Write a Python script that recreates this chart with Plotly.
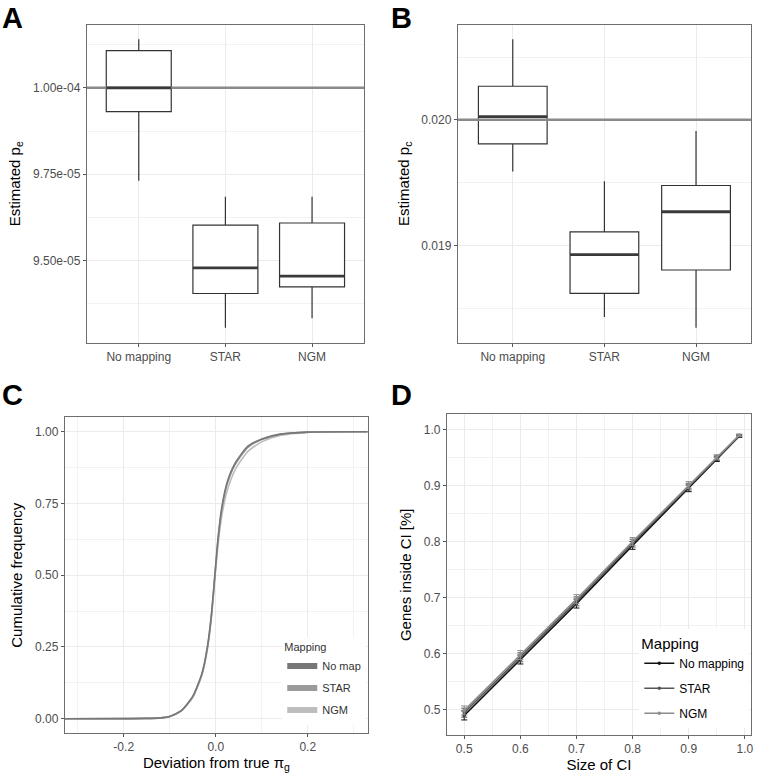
import plotly.graph_objects as go

# ---------------- data ----------------
methods = ["No mapping", "STAR", "NGM"]

# Panel A: estimated p_e (box stats)
pe_low = [9.731e-05, 9.306e-05, 9.333e-05]
pe_q1 = [9.931e-05, 9.405e-05, 9.424e-05]
pe_med = [1.0000e-04, 9.479e-05, 9.455e-05]
pe_q3 = [1.0108e-04, 9.603e-05, 9.609e-05]
pe_high = [1.0141e-04, 9.685e-05, 9.685e-05]
pe_true = 1.0e-04
pe_ticks = [9.50e-05, 9.75e-05, 1.00e-04]
pe_ticktext = ["9.50e-05", "9.75e-05", "1.00e-04"]
pe_minor = [9.375e-05, 9.625e-05, 9.875e-05, 1.0125e-04]

# Panel B: estimated p_c (box stats)
pc_low = [0.019589, 0.018430, 0.018343]
pc_q1 = [0.019809, 0.018618, 0.018804]
pc_med = [0.020026, 0.018926, 0.019268]
pc_q3 = [0.020268, 0.019107, 0.019477]
pc_high = [0.020642, 0.019511, 0.019912]
pc_true = 0.020
pc_ticks = [0.019, 0.020]
pc_ticktext = ["0.019", "0.020"]
pc_minor = [0.0185, 0.0195, 0.0205]

# Panel C: cumulative frequency of deviation from true pi_g
dev_x = [-0.33, -0.15, -0.12, -0.10, -0.075, -0.05, -0.03, -0.018, -0.009, -0.002,
         0.005, 0.013, 0.025, 0.043, 0.07, 0.10, 0.14, 0.20, 0.33]
cdf_nomap = [0.0, 0.001, 0.003, 0.008, 0.028, 0.078, 0.158, 0.252, 0.37, 0.50,
             0.63, 0.735, 0.825, 0.893, 0.950, 0.975, 0.992, 0.999, 1.0]
cdf_star = [0.0, 0.001, 0.003, 0.008, 0.027, 0.076, 0.155, 0.248, 0.365, 0.495,
            0.622, 0.727, 0.818, 0.888, 0.946, 0.973, 0.991, 0.999, 1.0]
cdf_ngm = [0.0, 0.001, 0.003, 0.008, 0.027, 0.074, 0.152, 0.243, 0.358, 0.485,
           0.605, 0.705, 0.795, 0.870, 0.932, 0.965, 0.987, 0.998, 1.0]
c_legend_names = ["No map", "STAR", "NGM"]
c_xticks = [-0.2, 0.0, 0.2]
c_xticktext = ["-0.2", "0.0", "0.2"]
c_xminor = [-0.3, -0.1, 0.1, 0.3]
c_yticks = [0.0, 0.25, 0.5, 0.75, 1.0]
c_yticktext = ["0.00", "0.25", "0.50", "0.75", "1.00"]
c_yminor = [0.125, 0.375, 0.625, 0.875]

# Panel D: genes inside CI vs size of CI
ci_size = [0.5, 0.6, 0.7, 0.8, 0.9, 0.95, 0.99]
inside_nomap = [0.489, 0.589, 0.689, 0.793, 0.895, 0.947, 0.988]
inside_star = [0.494, 0.593, 0.693, 0.797, 0.898, 0.949, 0.989]
inside_ngm = [0.498, 0.597, 0.697, 0.800, 0.901, 0.951, 0.990]
inside_err = [0.008, 0.008, 0.008, 0.007, 0.006, 0.004, 0.002]
d_ticks = [0.5, 0.6, 0.7, 0.8, 0.9, 1.0]
d_ticktext = ["0.5", "0.6", "0.7", "0.8", "0.9", "1.0"]
d_minor = [0.55, 0.65, 0.75, 0.85, 0.95]

# ---------------- styling ----------------
FONT = "Liberation Sans, Arial, Helvetica, sans-serif"
W, H = 758, 773
GRID = "#ebebeb"
BORDER = "#6e6e6e"
TICKC = "#4d4d4d"
BOXW = 0.75


def px_x(a, b):
    return [a / W, b / W]


def px_y(top, bottom):
    return [1 - bottom / H, 1 - top / H]


def fx(a):
    return a / W


def fy(a):
    return 1 - a / H


def axis_common(**kw):
    d = dict(showline=True, linecolor=BORDER, linewidth=1, mirror=True,
             ticks="outside", ticklen=3, tickcolor="#555", tickwidth=1,
             tickfont=dict(size=12, color=TICKC, family=FONT),
             showgrid=True, gridcolor=GRID, gridwidth=1.2, zeroline=False,
             tickmode="array", title_font=dict(size=15, color="black", family=FONT))
    d.update(kw)
    return d


def minor(vals):
    return dict(tickmode="array", tickvals=vals, showgrid=True, gridcolor="#f2f2f2",
                gridwidth=0.8, ticks="")


fig = go.Figure()

cat_pos = list(range(len(methods)))

# ----- Panel A -----
fig.add_trace(go.Box(x=cat_pos, q1=pe_q1, median=pe_med, q3=pe_q3,
                     lowerfence=pe_low, upperfence=pe_high, width=BOXW,
                     fillcolor="white", line=dict(color="#333333", width=1.2),
                     whiskerwidth=0, boxpoints=False, showlegend=False,
                     hoverinfo="skip", xaxis="x", yaxis="y"))
fig.add_trace(go.Scatter(x=[-0.6, 2.6], y=[pe_true, pe_true], mode="lines",
                         line=dict(color="#8a8a8a", width=2.5), showlegend=False,
                         hoverinfo="skip", xaxis="x", yaxis="y"))
mx, my = [], []
for i, m in zip(cat_pos, pe_med):
    mx += [i - BOXW / 2, i + BOXW / 2, None]
    my += [m, m, None]
fig.add_trace(go.Scatter(x=mx, y=my, mode="lines", line=dict(color="#3a3a3a", width=2.8),
                         showlegend=False, hoverinfo="skip", xaxis="x", yaxis="y"))

# ----- Panel B -----
fig.add_trace(go.Box(x=cat_pos, q1=pc_q1, median=pc_med, q3=pc_q3,
                     lowerfence=pc_low, upperfence=pc_high, width=BOXW,
                     fillcolor="white", line=dict(color="#333333", width=1.2),
                     whiskerwidth=0, boxpoints=False, showlegend=False,
                     hoverinfo="skip", xaxis="x2", yaxis="y2"))
fig.add_trace(go.Scatter(x=[-0.6, 2.6], y=[pc_true, pc_true], mode="lines",
                         line=dict(color="#8a8a8a", width=2.5), showlegend=False,
                         hoverinfo="skip", xaxis="x2", yaxis="y2"))
mx, my = [], []
for i, m in zip(cat_pos, pc_med):
    mx += [i - BOXW / 2, i + BOXW / 2, None]
    my += [m, m, None]
fig.add_trace(go.Scatter(x=mx, y=my, mode="lines", line=dict(color="#3a3a3a", width=2.8),
                         showlegend=False, hoverinfo="skip", xaxis="x2", yaxis="y2"))

# ----- Panel C -----
c_colors = ["#777777", "#9a9a9a", "#bdbdbd"]
for ys, col in zip([cdf_ngm, cdf_star, cdf_nomap], c_colors[::-1]):
    fig.add_trace(go.Scatter(x=dev_x, y=ys, mode="lines",
                             line=dict(color=col, width=1.6, shape="spline", smoothing=0.6),
                             showlegend=False, hoverinfo="skip", xaxis="x3", yaxis="y3"))
for name, col in zip(c_legend_names, c_colors):
    fig.add_trace(go.Scatter(x=[None], y=[None], mode="lines", name=name,
                             line=dict(color=col, width=6), legend="legend",
                             legendgroup="c" + name, xaxis="x3", yaxis="y3"))

# ----- Panel D -----
d_colors = ["#111111", "#555555", "#8c8c8c"]
for name, ys, col in zip(methods, [inside_nomap, inside_star, inside_ngm], d_colors):
    fig.add_trace(go.Scatter(x=ci_size, y=ys, mode="lines+markers", name=name,
                             line=dict(color=col, width=1.6),
                             marker=dict(size=3.5, color=col),
                             error_y=dict(type="data", array=inside_err, visible=True,
                                          color=col, thickness=1, width=3),
                             legend="legend2", legendgroup="d" + name,
                             hoverinfo="skip", xaxis="x4", yaxis="y4"))

letter_font = dict(size=29, family=FONT, color="black")

layout = dict(
    width=W, height=H, margin=dict(l=0, r=0, t=0, b=0),
    paper_bgcolor="white", plot_bgcolor="white",
    font=dict(family=FONT, color="black"),
    xaxis=axis_common(domain=px_x(87, 365), range=[-0.6, 2.6], tickvals=cat_pos,
                      ticktext=methods, anchor="y"),
    yaxis=axis_common(domain=px_y(25, 343), range=[9.263e-05, 1.0182e-04],
                      tickvals=pe_ticks, ticktext=pe_ticktext, minor=minor(pe_minor),
                      title=dict(text="Estimated p<sub>e</sub>", standoff=8), anchor="x"),
    xaxis2=axis_common(domain=px_x(459, 753), range=[-0.6, 2.6], tickvals=cat_pos,
                       ticktext=methods, anchor="y2"),
    yaxis2=axis_common(domain=px_y(25, 343), range=[0.018226, 0.020756],
                       tickvals=pc_ticks, ticktext=pc_ticktext, minor=minor(pc_minor),
                       title=dict(text="Estimated p<sub>c</sub>", standoff=8), anchor="x2"),
    xaxis3=axis_common(domain=px_x(65, 369), range=[-0.328, 0.331], tickvals=c_xticks,
                       ticktext=c_xticktext, minor=minor(c_xminor),
                       title=dict(text="Deviation from true π<sub>g</sub>", standoff=6),
                       anchor="y3"),
    yaxis3=axis_common(domain=px_y(418, 734), range=[-0.05, 1.05], tickvals=c_yticks,
                       ticktext=c_yticktext, minor=minor(c_yminor),
                       title=dict(text="Cumulative frequency", standoff=8), anchor="x3"),
    xaxis4=axis_common(domain=px_x(448, 753), range=[0.469, 1.011], tickvals=d_ticks,
                       ticktext=d_ticktext, minor=minor(d_minor),
                       title=dict(text="Size of CI", standoff=6), anchor="y4"),
    yaxis4=axis_common(domain=px_y(415, 736), range=[0.454, 1.027], tickvals=d_ticks,
                       ticktext=d_ticktext, minor=minor(d_minor),
                       title=dict(text="Genes inside CI [%]", standoff=8), anchor="x4"),
    legend=dict(x=fx(283), y=fy(638), xanchor="left", yanchor="top",
                bgcolor="white", borderwidth=0, tracegroupgap=3,
                font=dict(size=11, color="#333", family=FONT),
                title=dict(text="Mapping", font=dict(size=11, color="#333", family=FONT))),
    legend2=dict(x=fx(641), y=fy(630), xanchor="left", yanchor="top",
                 bgcolor="white", borderwidth=0, tracegroupgap=6,
                 font=dict(size=12, color="black", family=FONT),
                 title=dict(text="Mapping", font=dict(size=15, color="black", family=FONT))),
    annotations=[
        dict(text="<b>A</b>", x=fx(0), y=1, xref="paper", yref="paper",
             xanchor="left", yanchor="top", showarrow=False, font=letter_font),
        dict(text="<b>B</b>", x=fx(390), y=1, xref="paper", yref="paper",
             xanchor="left", yanchor="top", showarrow=False, font=letter_font),
        dict(text="<b>C</b>", x=fx(0), y=fy(396), xref="paper", yref="paper",
             xanchor="left", yanchor="middle", showarrow=False, font=letter_font),
        dict(text="<b>D</b>", x=fx(390), y=fy(396), xref="paper", yref="paper",
             xanchor="left", yanchor="middle", showarrow=False, font=letter_font),
    ],
)
fig.update_layout(**layout)

fig.write_html("out.html", config={"displayModeBar": False},
               post_script="document.body.style.margin='0';document.body.style.overflow='hidden';")
